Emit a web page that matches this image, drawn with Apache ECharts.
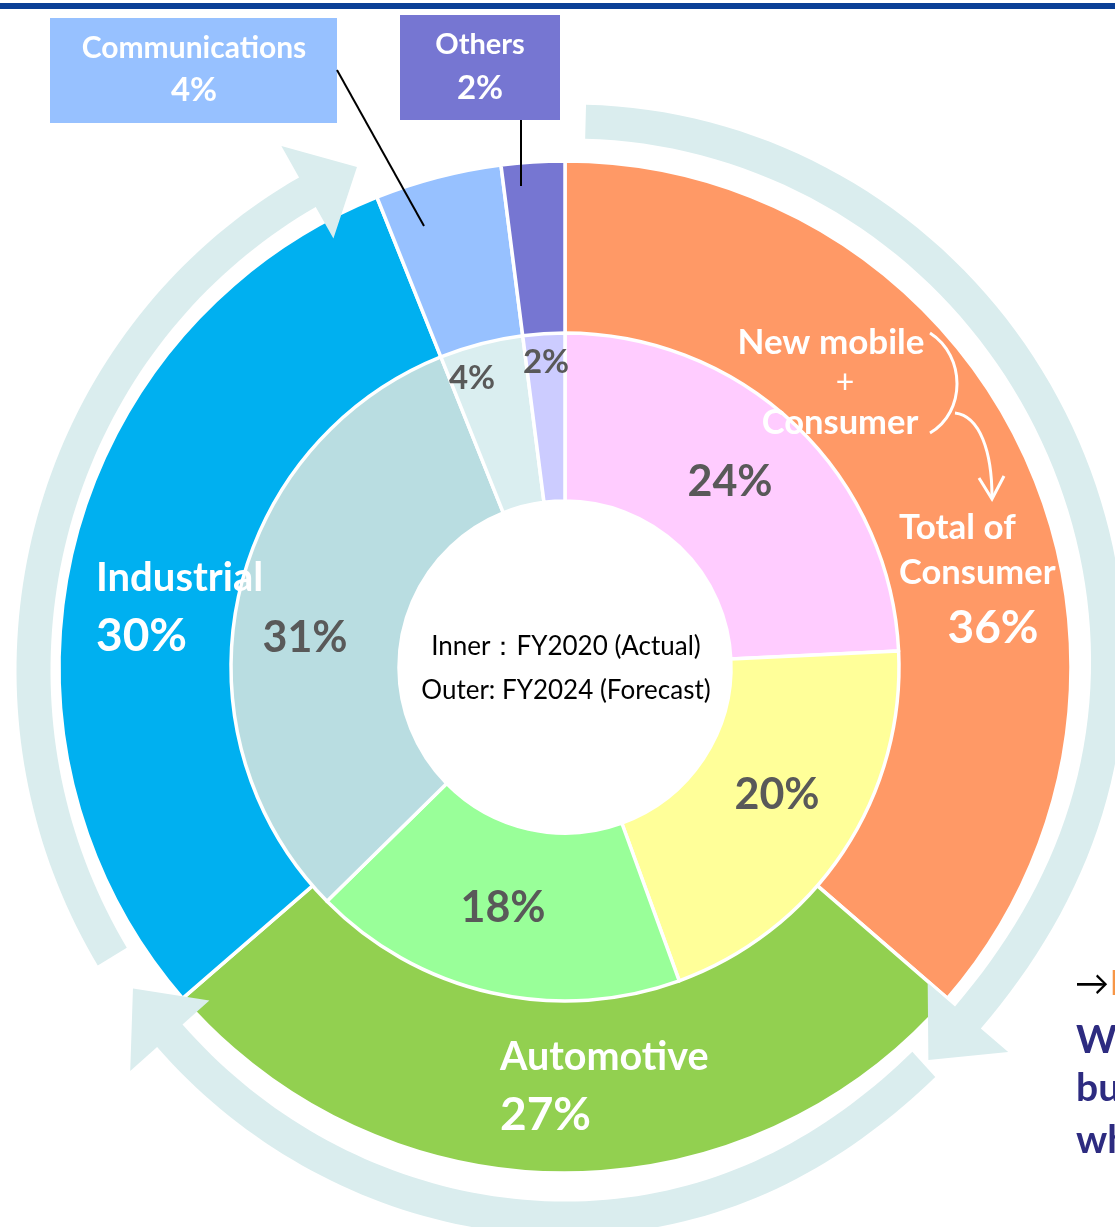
<!DOCTYPE html>
<html>
<head>
<meta charset="utf-8">
<script src="https://cdn.jsdelivr.net/npm/echarts@6/dist/echarts.min.js"></script>
<style>
  html, body { margin: 0; padding: 0; background: #fff; }
  #main { width: 1115px; height: 1227px; }
</style>
</head>
<body>
<div id="main"></div>
<script>
// outer ring = FY2024 forecast, inner ring = FY2020 actual
var outerNames = ['Consumer', 'Automotive', 'Industrial', 'Communications', 'Others'];
var outerValues = [36, 27, 30, 4, 2];
var innerNames = ['New mobile', 'Consumer', 'Automotive', 'Industrial', 'Communications', 'Others'];
var innerValues = [24, 20, 18, 31, 4, 2];

var outerColors = ['#FF9966', '#92D050', '#00B0F0', '#97C1FF', '#7676D2'];
var innerColors = ['#FFCCFF', '#FFFF99', '#99FF99', '#B9DDE1', '#DAEEF0', '#CCCCFF'];

var FONT = 'Lato, "Noto Sans", sans-serif';
var CX = 565, CY = 667;

var myChart = echarts.init(document.getElementById('main'));

function txt(x, y, text, size, color, weight, align) {
  return {
    type: 'text', z: 20, x: x, y: y,
    style: {
      text: text, fill: color,
      font: (weight || 'bold') + ' ' + size + 'px ' + FONT,
      textAlign: align || 'center', align: align || 'center',
      textVerticalAlign: 'middle', verticalAlign: 'middle'
    }
  };
}

// circular arrows around the chart (slightly squashed like the slide)
var arc = { cx: 571.5, cy: 670.5, rx: 538, ry: 549 };
function ep(deg, off) {
  var p = deg * Math.PI / 180;
  // the lower right part sits a bit closer to the ring in the slide
  var k = (deg - 133) / 28;
  off -= 16 * Math.exp(-k * k);
  return [arc.cx + (arc.rx + off) * Math.sin(p), arc.cy - (arc.ry + off) * Math.cos(p)];
}
function arrow(a0, a1, aTip) {
  var pts = [], w = 17, W = 53, n = 80, i;
  for (i = 0; i <= n; i++) pts.push(ep(a0 + (a1 - a0) * i / n, w));
  pts.push(ep(a1, W));
  pts.push(ep(aTip, 0));
  pts.push(ep(a1, -W));
  for (i = n; i >= 0; i--) pts.push(ep(a0 + (a1 - a0) * i / n, -w));
  return { type: 'polygon', z: 10, shape: { points: pts }, style: { fill: '#DAEDEE' } };
}

var innerPos = [[730, 482], [777, 795], [503, 908], [305, 638], [472, 378], [546, 362]];
var innerSize = [43, 43, 43, 43, 33, 33];

var elements = [
  { type: 'rect', z: 20, shape: { x: 0, y: 3, width: 1115, height: 6 }, style: { fill: '#0B3F96' } },
  arrow(1.5, 130.6, 136.9),
  arrow(137.6, 228.3, 234.6),
  arrow(238.6, 330.6, 336.5),
  // label boxes on top
  { type: 'rect', z: 20, shape: { x: 50, y: 18, width: 287, height: 105 }, style: { fill: outerColors[3] } },
  { type: 'rect', z: 20, shape: { x: 400, y: 15, width: 160, height: 105 }, style: { fill: outerColors[4] } },
  { type: 'line', z: 21, shape: { x1: 337, y1: 70, x2: 424, y2: 226 }, style: { stroke: '#000', lineWidth: 2 } },
  { type: 'line', z: 21, shape: { x1: 521, y1: 120, x2: 521, y2: 186 }, style: { stroke: '#000', lineWidth: 2 } },
  txt(194, 48, outerNames[3], 30, '#fff', 'bold'),
  txt(194, 90, outerValues[3] + '%', 33, '#fff', 'bold'),
  txt(480, 45, outerNames[4], 29, '#fff', 'bold'),
  txt(480, 88, outerValues[4] + '%', 33, '#fff', 'bold'),
  // outer ring labels
  txt(96, 578, outerNames[2], 40, '#fff', 'bold', 'left'),
  txt(96, 636, outerValues[2] + '%', 46, '#fff', 'bold', 'left'),
  txt(500, 1057, outerNames[1], 39.5, '#fff', 'bold', 'left'),
  txt(500, 1115, outerValues[1] + '%', 46, '#fff', 'bold', 'left'),
  txt(899, 528, 'Total of', 35, '#fff', 'bold', 'left'),
  txt(899, 573, 'Consumer', 34.5, '#fff', 'bold', 'left'),
  txt(993, 628, outerValues[0] + '%', 46, '#fff', 'bold'),
  txt(831, 343, 'New mobile', 35, '#fff', 'bold'),
  txt(845, 383, '+', 32, '#fff', 'normal'),
  txt(840, 423, 'Consumer', 34.5, '#fff', 'bold'),
  // bracket and arrow from "New mobile + Consumer" to the total
  { type: 'bezierCurve', z: 21, shape: { x1: 930, y1: 333, cpx1: 966, cpy1: 356, cpx2: 966, cpy2: 412, x2: 930, y2: 433 }, style: { stroke: '#fff', lineWidth: 3, fill: null } },
  { type: 'bezierCurve', z: 21, shape: { x1: 955, y1: 413, cpx1: 980, cpy1: 416, cpx2: 992, cpy2: 452, x2: 992, y2: 497 }, style: { stroke: '#fff', lineWidth: 3, fill: null } },
  { type: 'polyline', z: 21, shape: { points: [[979, 478], [992, 499], [1004, 476]] }, style: { stroke: '#fff', lineWidth: 3, fill: null } },
  // centre text
  txt(566, 647, 'Inner\uFF1AFY2020 (Actual)', 26, '#000', 'normal'),
  txt(566, 691, 'Outer: FY2024 (Forecast)', 26, '#000', 'normal'),
  // text that continues off the right edge of the slide
  txt(1075, 984, '\u2192', 34, '#000', 'normal', 'left'),
  txt(1110, 984, 'I', 34, '#F79646', 'bold', 'left'),
  txt(1076, 1040, 'We', 39, '#2D2B80', 'bold', 'left'),
  txt(1076, 1088, 'bu', 39, '#2D2B80', 'bold', 'left'),
  txt(1076, 1140, 'wh', 39, '#2D2B80', 'bold', 'left')
];

for (var i = 0; i < innerValues.length; i++) {
  elements.push(txt(innerPos[i][0], innerPos[i][1], innerValues[i] + '%', innerSize[i], '#595959', 'bold'));
}

function toData(names, values, colors) {
  return names.map(function (n, i) {
    return { name: n, value: values[i], itemStyle: { color: colors[i] } };
  });
}

myChart.setOption({
  animation: false,
  backgroundColor: '#fff',
  series: [{
    name: 'FY2024 (Forecast)',
    type: 'pie',
    silent: true,
    center: [CX, CY],
    radius: [333, 506],
    startAngle: 90,
    clockwise: true,
    label: { show: false },
    labelLine: { show: false },
    itemStyle: { borderColor: '#fff', borderWidth: 3.5 },
    data: toData(outerNames, outerValues, outerColors)
  }, {
    name: 'FY2020 (Actual)',
    type: 'pie',
    silent: true,
    center: [CX, CY],
    radius: [166, 334],
    startAngle: 90,
    clockwise: true,
    label: { show: false },
    labelLine: { show: false },
    itemStyle: { borderColor: '#fff', borderWidth: 3.5 },
    data: toData(innerNames, innerValues, innerColors)
  }],
  graphic: { elements: elements }
});
</script>
</body>
</html>
